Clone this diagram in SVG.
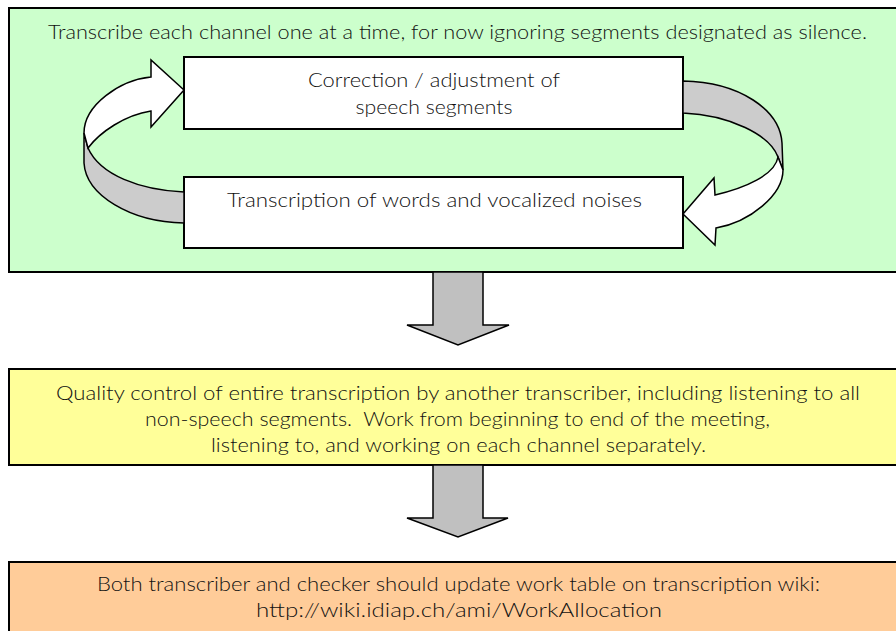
<svg xmlns="http://www.w3.org/2000/svg" width="896" height="631" viewBox="0 0 896 631">
<style>
.box{stroke:#000;stroke-width:2}
.inner{fill:#fff;stroke:#000;stroke-width:2}
.t{font-family:Lato,"Open Sans","Liberation Sans",sans-serif;font-size:19px;font-weight:300;fill:#111;text-anchor:middle}
.arr{fill:#c0c0c0;stroke:#000;stroke-width:1.5;stroke-linejoin:miter}
.rw{fill:#fff;stroke:#000;stroke-width:1.5;stroke-linejoin:miter}
.rg{fill:#cccccc;stroke:#000;stroke-width:1.5;stroke-linejoin:miter}
</style>
<rect width="896" height="631" fill="#fff"/>
<g id="stage1">
<rect class="box" x="9" y="8" width="902" height="264" fill="#ccffcc"/>
<text class="t" x="457.5" y="39" textLength="819" lengthAdjust="spacingAndGlyphs">Transcribe each channel one at a time, for now ignoring segments designated as silence.</text>
</g>
<g id="correction">
<rect class="inner" x="184" y="57" width="499" height="72"/>
<text class="t" x="434" y="87" textLength="252" lengthAdjust="spacingAndGlyphs">Correction / adjustment of</text>
<text class="t" x="434" y="114" textLength="157" lengthAdjust="spacingAndGlyphs">speech segments</text>
</g>
<g id="transcription">
<rect class="inner" x="184" y="177" width="499" height="71"/>
<text class="t" x="434.5" y="207" textLength="415" lengthAdjust="spacingAndGlyphs">Transcription of words and vocalized noises</text>
</g>
<g id="quality">
<rect class="box" x="9" y="369" width="902" height="96" fill="#ffff99"/>
<text class="t" x="458" y="400" textLength="804" lengthAdjust="spacingAndGlyphs">Quality control of entire transcription by another transcriber, including listening to all</text>
<text class="t" x="457.5" y="426" textLength="625" lengthAdjust="spacingAndGlyphs" xml:space="preserve">non-speech segments.  Work from beginning to end of the meeting,</text>
<text class="t" x="458.5" y="452" textLength="495" lengthAdjust="spacingAndGlyphs">listening to, and working on each channel separately.</text>
</g>
<g id="update">
<rect class="box" x="9" y="562" width="902" height="80" fill="#ffcc99"/>
<text class="t" x="458.5" y="591" textLength="723" lengthAdjust="spacingAndGlyphs">Both transcriber and checker should update work table on transcription wiki:</text>
<text class="t" x="459" y="617" textLength="406" lengthAdjust="spacingAndGlyphs">http://wiki.idiap.ch/ami/WorkAllocation</text>
</g>
<g id="connectors">
<path class="rg" d="M184,192 C140,190 100,175 88,148 L84,133 L84,163 C86,195 130,222 184,223 Z"/>
<path class="rw" d="M184,90 L151,60 L151,77 C120,80 84,105 84,133 L88,148 C100,132 125,115 151,111 L151,127 Z"/>
<path class="rg" d="M683,81 C740,82 780,110 782,143 L783,170 L778,157 C770,135 730,115 683,113 Z"/>
<path class="rw" d="M683,214 L714,178 L715,195 C745,188 775,175 778,157 L783,170 C783,195 750,222 716,228 L715,245 Z"/>
<path class="arr" d="M433,272 L483,272 L483,325 L509,325 L458,345 L407,325 L433,325 Z"/>
<path class="arr" d="M433,465 L483,465 L483,518 L508,518 L458,537 L407,518 L433,518 Z"/>
</g>
</svg>
